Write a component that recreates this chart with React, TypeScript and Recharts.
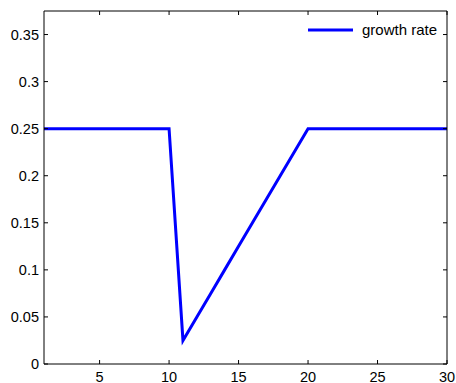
import React from 'react';
import { LineChart, Line, XAxis, YAxis, Legend } from 'recharts';

const periods = [1,2,3,4,5,6,7,8,9,10,11,12,13,14,15,16,17,18,19,20,21,22,23,24,25,26,27,28,29,30];
const growthRate = [0.25,0.25,0.25,0.25,0.25,0.25,0.25,0.25,0.25,0.25,0.025,0.05,0.075,0.1,0.125,0.15,0.175,0.2,0.225,0.25,0.25,0.25,0.25,0.25,0.25,0.25,0.25,0.25,0.25,0.25];
const xTicks = [5,10,15,20,25,30];
const yTicks = [0,0.05,0.1,0.15,0.2,0.25,0.3,0.35];
const seriesName = 'growth rate';

const data = periods.map((p, i) => ({ x: p, g: growthRate[i] }));

const font = 'Liberation Sans, Arial, Helvetica, sans-serif';
const tickStyle = { fontSize: 14.5, fill: '#000', fontFamily: font };

const LegendContent = () => (
  <div style={{ display: 'flex', alignItems: 'center', fontFamily: font, fontSize: 15, color: '#000', whiteSpace: 'nowrap' }}>
    <svg width={50} height={6} style={{ display: 'block' }}>
      <line x1={1} y1={3} x2={46} y2={3} stroke="#0000ff" strokeWidth={3} />
    </svg>
    <span style={{ marginLeft: 5 }}>{seriesName}</span>
  </div>
);

export default function App() {
  return (
    <div style={{ position: 'absolute', left: 0, top: 0, background: '#fff' }}>
      <LineChart width={456} height={383} data={data} margin={{ top: 0, right: 0, bottom: 0, left: 0 }}>
        <XAxis
          dataKey="x"
          type="number"
          domain={[1, 30]}
          ticks={xTicks}
          allowDataOverflow
          height={19}
          stroke="#000"
          tickSize={-4}
          tickMargin={12}
          tick={tickStyle}
          axisLine={{ stroke: '#000', strokeWidth: 1 }}
          tickLine={{ stroke: '#000' }}
        />
        <XAxis
          xAxisId="top"
          orientation="top"
          dataKey="x"
          type="number"
          domain={[1, 30]}
          ticks={xTicks}
          allowDataOverflow
          height={11}
          tickSize={-4}
          tickFormatter={() => ''}
          axisLine={{ stroke: '#000', strokeWidth: 1 }}
          tickLine={{ stroke: '#000' }}
        />
        <YAxis
          type="number"
          domain={[0, 0.375]}
          ticks={yTicks}
          allowDataOverflow
          width={44}
          tickSize={-4}
          tickMargin={9}
          tick={tickStyle}
          axisLine={{ stroke: '#000', strokeWidth: 1 }}
          tickLine={{ stroke: '#000' }}
        />
        <YAxis
          yAxisId="right"
          orientation="right"
          type="number"
          domain={[0, 0.375]}
          ticks={yTicks}
          allowDataOverflow
          width={9}
          tickSize={-4}
          tickFormatter={() => ''}
          axisLine={{ stroke: '#000', strokeWidth: 1 }}
          tickLine={{ stroke: '#000' }}
        />
        <Legend
          layout="vertical"
          align="center"
          verticalAlign="middle"
          content={<LegendContent />}
          wrapperStyle={{ position: 'absolute', left: 307, top: 21, width: 145, height: 20 }}
        />
        <Line
          type="linear"
          dataKey="g"
          name={seriesName}
          stroke="#0000ff"
          strokeWidth={3}
          dot={false}
          activeDot={false}
          isAnimationActive={false}
        />
      </LineChart>
    </div>
  );
}
